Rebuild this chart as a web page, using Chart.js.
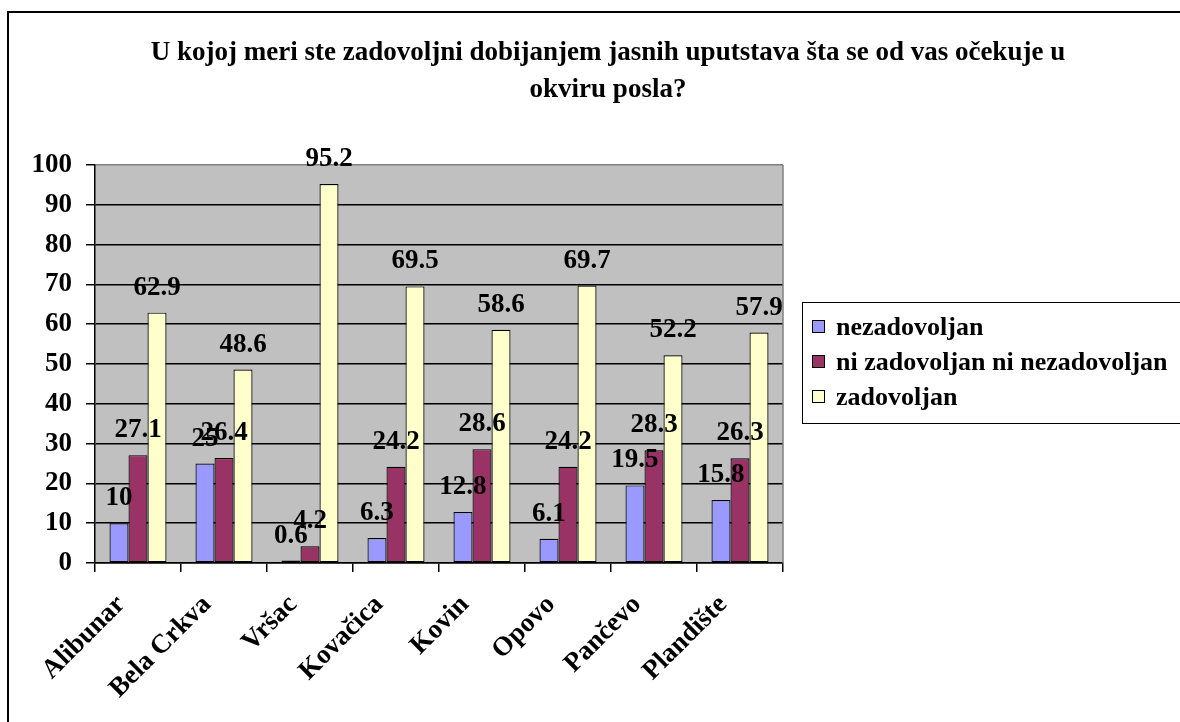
<!DOCTYPE html>
<html>
<head>
<meta charset="utf-8">
<script src="https://cdn.jsdelivr.net/npm/chart.js@4"></script>
<style>
  html, body { margin: 0; padding: 0; background: #fff; }
  #wrap { width: 1180px; height: 722px; }
</style>
</head>
<body>
<div id="wrap"><canvas id="chart" width="1180" height="722"></canvas></div>
<script>
// podaci sa slike
const categories = ['Alibunar', 'Bela Crkva', 'Vršac', 'Kovačica', 'Kovin', 'Opovo', 'Pančevo', 'Plandište'];
const seriesNames = ['nezadovoljan', 'ni zadovoljan ni nezadovoljan', 'zadovoljan'];
const nezadovoljan = [10, 25, 0.6, 6.3, 12.8, 6.1, 19.5, 15.8];
const niZadovoljanNiNezadovoljan = [27.1, 26.4, 4.2, 24.2, 28.6, 24.2, 28.3, 26.3];
const zadovoljan = [62.9, 48.6, 95.2, 69.5, 58.6, 69.7, 52.2, 57.9];
const yTicks = [0, 10, 20, 30, 40, 50, 60, 70, 80, 90, 100];
const titleLines = ['U kojoj meri ste zadovoljni dobijanjem jasnih uputstava šta se od vas očekuje u', 'okviru posla?'];
const seriesColors = ['#9999FF', '#993366', '#FFFFCC'];

const FONT = "'Liberation Serif', 'Times New Roman', serif";

// okvir, pozadina i naslov
const backgroundPlugin = {
    id: 'backgroundPlugin',
    beforeDraw(chart) {
        const ctx = chart.ctx;
        const a = chart.chartArea;
        ctx.save();
        ctx.fillStyle = '#fff';
        ctx.fillRect(0, 0, chart.width, chart.height);
        // spoljni okvir
        ctx.strokeStyle = '#000';
        ctx.lineWidth = 2;
        ctx.beginPath();
        ctx.moveTo(1185, 12);
        ctx.lineTo(8, 12);
        ctx.lineTo(8, 730);
        ctx.stroke();
        // siva pozadina
        ctx.fillStyle = '#C0C0C0';
        ctx.fillRect(a.left, a.top, a.right - a.left, a.bottom - a.top);
        // naslov
        ctx.fillStyle = '#000';
        ctx.font = 'bold 27px ' + FONT;
        ctx.textAlign = 'center';
        ctx.textBaseline = 'alphabetic';
        ctx.fillText(titleLines[0], 608, 60);
        ctx.fillText(titleLines[1], 608, 97);
        ctx.restore();
    },
    afterDraw(chart) {
        const ctx = chart.ctx;
        const a = chart.chartArea;
        ctx.save();
        // desna siva ivica
        ctx.strokeStyle = '#808080';
        ctx.lineWidth = 1.5;
        ctx.beginPath();
        ctx.moveTo(a.right, a.top);
        ctx.lineTo(a.right, a.bottom);
        ctx.stroke();

        // legenda
        ctx.strokeStyle = '#000';
        ctx.lineWidth = 1;
        ctx.strokeRect(802.5, 302.5, 420, 121);
        ctx.font = 'bold 26px ' + FONT;
        ctx.textAlign = 'left';
        ctx.textBaseline = 'alphabetic';
        const rows = [326, 361, 396];
        chart.data.datasets.forEach((ds, i) => {
            ctx.fillStyle = ds.backgroundColor;
            ctx.fillRect(812, rows[i] - 6, 13, 13);
            ctx.strokeRect(812.5, rows[i] - 5.5, 12, 12);
            ctx.fillStyle = '#000';
            ctx.fillText(ds.label, 836, rows[i] + 9);
        });
        ctx.restore();
    }
};

// vrednosti iznad stubova
const dataLabels = {
    id: 'dataLabels',
    afterDatasetsDraw(chart) {
        const ctx = chart.ctx;
        ctx.save();
        ctx.font = 'bold 27px ' + FONT;
        ctx.fillStyle = '#000';
        ctx.textAlign = 'center';
        ctx.textBaseline = 'alphabetic';
        chart.data.datasets.forEach((ds, i) => {
            chart.getDatasetMeta(i).data.forEach((bar, j) => {
                ctx.fillText(String(ds.data[j]), bar.x, bar.y - 18);
            });
        });
        ctx.restore();
    }
};

new Chart(document.getElementById('chart'), {
    type: 'bar',
    data: {
        labels: categories,
        datasets: [
            { label: seriesNames[0], data: nezadovoljan, backgroundColor: seriesColors[0] },
            { label: seriesNames[1], data: niZadovoljanNiNezadovoljan, backgroundColor: seriesColors[1] },
            { label: seriesNames[2], data: zadovoljan, backgroundColor: seriesColors[2] }
        ]
    },
    options: {
        responsive: false,
        animation: false,
        devicePixelRatio: 1,
        layout: { padding: { left: 0, top: 165, right: 397, bottom: 0 } },
        datasets: {
            bar: {
                borderColor: '#000',
                borderWidth: 1.2,
                borderSkipped: false,
                categoryPercentage: 0.663,
                barPercentage: 1
            }
        },
        plugins: {
            legend: { display: false },
            title: { display: false },
            tooltip: { enabled: false }
        },
        scales: {
            x: {
                afterFit(scale) { scale.height = 159; },
                grid: {
                    offset: true,
                    drawOnChartArea: false,
                    tickLength: 9,
                    color: '#000',
                    lineWidth: 1.5
                },
                border: { color: '#000', width: 1.5 },
                ticks: {
                    color: '#000',
                    font: { family: FONT, size: 27, weight: 'bold' },
                    minRotation: 45,
                    maxRotation: 45,
                    autoSkip: false,
                    labelOffset: -17,
                    padding: 17
                }
            },
            y: {
                min: 0,
                max: 100,
                afterFit(scale) { scale.width = 95; },
                afterBuildTicks(scale) { scale.ticks = yTicks.map(v => ({ value: v })); },
                grid: {
                    color: c => (c.tick && c.tick.value === 100) ? '#808080' : '#000',
                    tickColor: '#000',
                    tickLength: 9,
                    lineWidth: 1.5
                },
                border: { color: '#000', width: 1.5 },
                ticks: {
                    color: '#000',
                    font: { family: FONT, size: 27, weight: 'bold' },
                    padding: 14
                }
            }
        }
    },
    plugins: [backgroundPlugin, dataLabels]
});
</script>
</body>
</html>
